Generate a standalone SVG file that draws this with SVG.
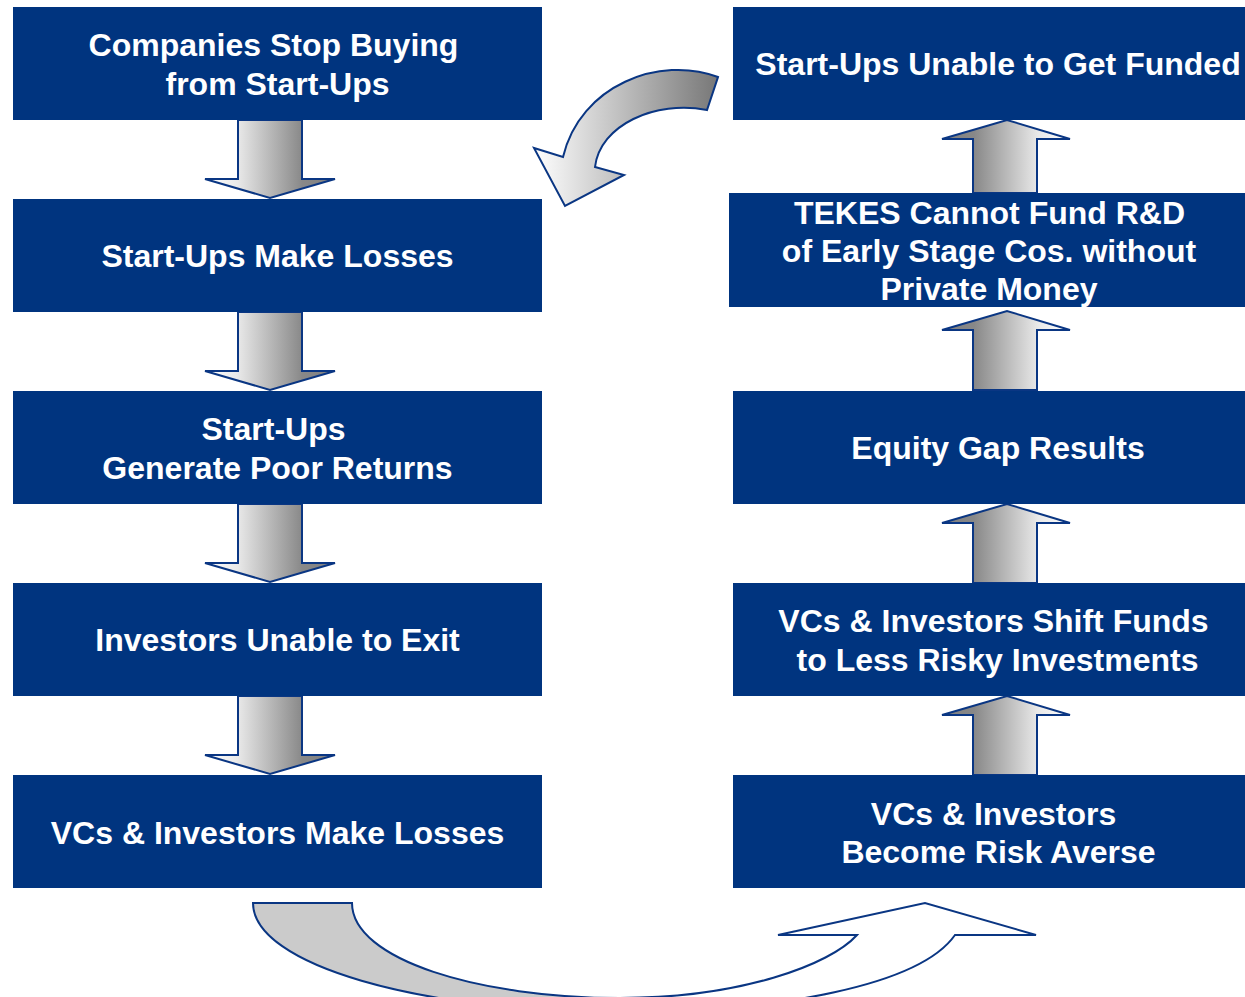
<svg xmlns="http://www.w3.org/2000/svg" width="1245" height="997" viewBox="0 0 1245 997">
<style>
.box{fill:#00347f}
.t{fill:#fff;font-family:"Liberation Sans",Arial,sans-serif;font-weight:bold;font-size:32px;text-anchor:middle}
.ar{stroke:#0a3683;stroke-width:2;stroke-linejoin:miter}
.dn{fill:url(#gDown)}
.up{fill:url(#gUp)}
</style>
<defs>
<linearGradient id="gDown" x1="0" y1="0" x2="1" y2="0">
<stop offset="0" stop-color="#ffffff"/>
<stop offset="0.25" stop-color="#e9e9e9"/>
<stop offset="0.75" stop-color="#888888"/>
<stop offset="1" stop-color="#808080"/>
</linearGradient>
<linearGradient id="gUp" x1="0" y1="0" x2="1" y2="0">
<stop offset="0" stop-color="#808080"/>
<stop offset="0.25" stop-color="#888888"/>
<stop offset="0.75" stop-color="#e9e9e9"/>
<stop offset="1" stop-color="#ffffff"/>
</linearGradient>
<linearGradient id="gTop" gradientUnits="userSpaceOnUse" x1="534" y1="0" x2="718" y2="0">
<stop offset="0" stop-color="#ffffff"/>
<stop offset="1" stop-color="#777777"/>
</linearGradient>
<linearGradient id="gBot" gradientUnits="userSpaceOnUse" x1="253" y1="0" x2="1036" y2="0">
<stop offset="0" stop-color="#cbcbcb"/>
<stop offset="0.45" stop-color="#cbcbcb"/>
<stop offset="0.5" stop-color="#ffffff"/>
<stop offset="1" stop-color="#ffffff"/>
</linearGradient>
</defs>

<g id="connectors">
<polygon class="ar dn" points="238,120 302,120 302,179 335,179 270,198 205,179 238,179"/>
<polygon class="ar dn" points="238,312 302,312 302,371 335,371 270,390 205,371 238,371"/>
<polygon class="ar dn" points="238,504 302,504 302,563 335,563 270,582 205,563 238,563"/>
<polygon class="ar dn" points="238,696 302,696 302,755 335,755 270,774 205,755 238,755"/>
<polygon class="ar up" points="973,193 1037,193 1037,139 1070,139 1007,120 942,139 973,139"/>
<polygon class="ar up" points="973,390 1037,390 1037,330 1070,330 1007,311 942,330 973,330"/>
<polygon class="ar up" points="973,583 1037,583 1037,523 1070,523 1007,504 942,523 973,523"/>
<polygon class="ar up" points="973,775 1037,775 1037,715 1070,715 1007,696 942,715 973,715"/>
<path class="ar" fill="url(#gTop)" d="M718,77 C660,55 580,85 563,157 L534,148 L565,206 L624,175 L595,167 C600,125 655,100 707,110 Z"/>
<path class="ar" fill="url(#gBot)" d="M253,903 L352,903 C352,960 480,998 620,998 C740,998 830,965 857,935 L778,935 L925,903 L1036,935 L955,935 C920,985 780,1012 620,1012 C420,1012 253,965 253,903 Z"/>
</g>

<g id="n1"><rect class="box" x="13" y="7" width="529" height="113"/><text class="t" x="273.5" y="56">Companies Stop Buying</text><text class="t" x="277.5" y="94.5">from Start-Ups</text></g>
<g id="n2"><rect class="box" x="13" y="199" width="529" height="113"/><text class="t" x="277.5" y="266.5">Start-Ups Make Losses</text></g>
<g id="n3"><rect class="box" x="13" y="391" width="529" height="113"/><text class="t" x="273.5" y="439.5">Start-Ups</text><text class="t" x="277.5" y="478.5">Generate Poor Returns</text></g>
<g id="n4"><rect class="box" x="13" y="583" width="529" height="113"/><text class="t" x="277.5" y="651">Investors Unable to Exit</text></g>
<g id="n5"><rect class="box" x="13" y="775" width="529" height="113"/><text class="t" x="277.5" y="843.5">VCs &amp; Investors Make Losses</text></g>

<g id="n6"><rect class="box" x="733" y="7" width="530" height="113"/><text class="t" x="998" y="74.5">Start-Ups Unable to Get Funded</text></g>
<g id="n7"><rect class="box" x="729" y="193" width="530" height="114"/><text class="t" x="989.5" y="223.5">TEKES Cannot Fund R&amp;D</text><text class="t" x="989" y="261.5">of Early Stage Cos. without</text><text class="t" x="989" y="300">Private Money</text></g>
<g id="n8"><rect class="box" x="733" y="391" width="530" height="113"/><text class="t" x="998" y="458.5">Equity Gap Results</text></g>
<g id="n9"><rect class="box" x="733" y="583" width="530" height="113"/><text class="t" x="993.5" y="631.5">VCs &amp; Investors Shift Funds</text><text class="t" x="997.5" y="670.5">to Less Risky Investments</text></g>
<g id="n10"><rect class="box" x="733" y="775" width="530" height="113"/><text class="t" x="993.5" y="824.5">VCs &amp; Investors</text><text class="t" x="998.5" y="862.5">Become Risk Averse</text></g>
</svg>
